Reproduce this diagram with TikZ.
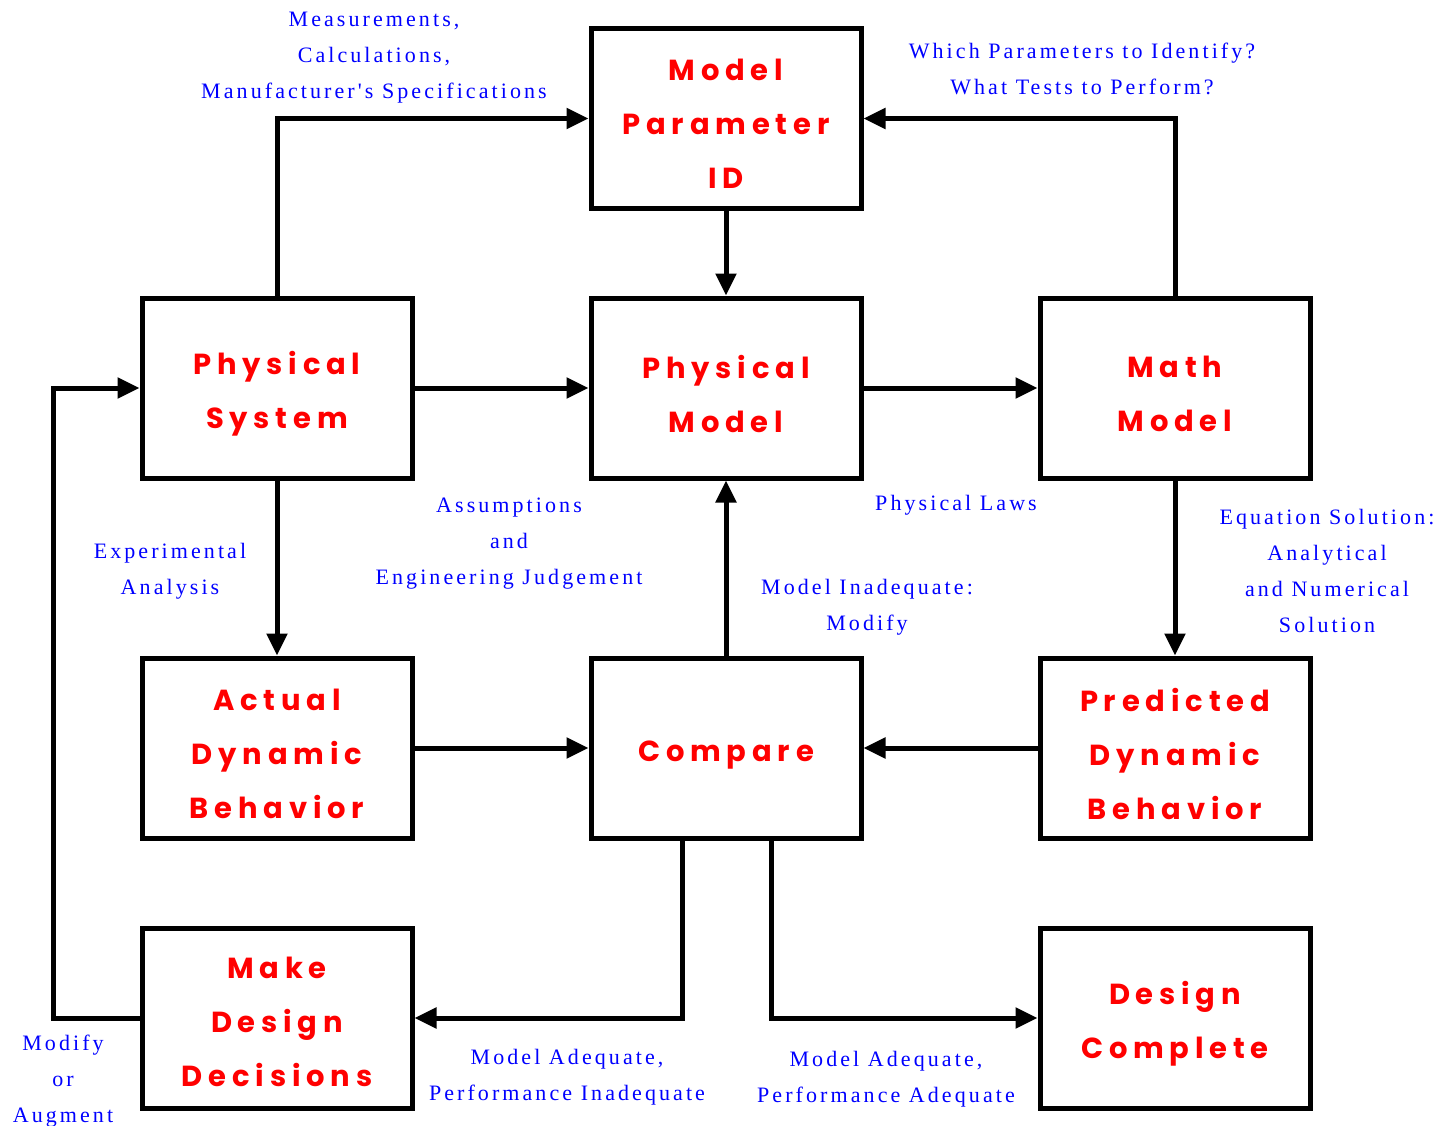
\documentclass[tikz,border=0pt]{standalone}
\usepackage{fontspec}
\usetikzlibrary{arrows.meta}
\newfontfamily\redfnt[LetterSpace=20]{Poppins}
\newfontfamily\bluefnt[LetterSpace=14]{Liberation Serif}
\begin{document}
\begin{tikzpicture}[x=1pt,y=-1pt,
  box/.style={draw,line width=5pt,minimum width=270pt,minimum height=180pt,inner sep=0pt},
  rtxt/.style={text=red,align=center,inner sep=0pt,font={\redfnt\bfseries\fontsize{29}{54}\selectfont}},
  lbl/.style={text=blue,align=center,inner sep=0pt,font={\bluefnt\fontsize{22}{36}\selectfont}},
  conn/.style={line width=5pt,-{Triangle[length=22pt,width=20pt]}}]
\useasboundingbox (0,0) rectangle (1446,1126);
\node[box] (mpid) at (726,118.5) {};
\node[box] (ps) at (277,388) {};
\node[box] (pm) at (726,388) {};
\node[box] (mm) at (1175,388) {};
\node[box] (adb) at (277,748) {};
\node[box] (cmp) at (726,748) {};
\node[box] (pdb) at (1175,748) {};
\node[box] (mdd) at (277,1018) {};
\node[box] (dc) at (1175,1018) {};
% box texts
\node[rtxt] (mpidt) at ([yshift=-5pt]mpid.center) {Model\\Parameter\\ID};
\node[rtxt] (pst) at ([yshift=-6pt]ps.center) {Physical\\System};
\node[rtxt] (pmt) at ([yshift=-6pt]pm.center) {Physical\\Model};
\node[rtxt] (mmt) at ([yshift=-6pt]mm.center) {Math\\Model};
\node[rtxt] (adbt) at ([yshift=-6pt]adb.center) {Actual\\Dynamic\\Behavior};
\node[rtxt] (cmpt) at ([yshift=-7pt]cmp.center) {Compare};
\node[rtxt] (pdbt) at ([yshift=-6pt]pdb.center) {Predicted\\Dynamic\\Behavior};
\node[rtxt] (mddt) at ([yshift=-4pt]mdd.center) {Make\\Design\\Decisions};
\node[rtxt] (dct) at ([yshift=-6pt]dc.center) {Design\\Complete};
% connectors
\draw[conn] (ps.north) |- (mpid.west);
\draw[conn] (mm.north) |- (mpid.east);
\draw[conn] (mpid.south) -- (pm.north);
\draw[conn] (ps.east) -- (pm.west);
\draw[conn] (pm.east) -- (mm.west);
\draw[conn] (ps.south) -- (adb.north);
\draw[conn] (mm.south) -- (pdb.north);
\draw[conn] (adb.east) -- (cmp.west);
\draw[conn] (pdb.west) -- (cmp.east);
\draw[conn] (cmp.north) -- (pm.south);
\coordinate (c1) at ([xshift=-44pt]cmp.south);
\coordinate (c2) at ([xshift=45pt]cmp.south);
\draw[conn] (c1) |- (mdd.east);
\draw[conn] (c2) |- (dc.west);
\coordinate (lft) at (53,1018);
\draw[conn] (mdd.west) -- (lft) |- (ps.west);
% labels
\node[lbl] (l1) at (374,58) {Measurements,\\Calculations,\\Manufacturer's Specifications};
\node[lbl] (l2) at (1082,69) {Which Parameters to Identify?\\What Tests to Perform?};
\node[lbl] (l3) at (170,571) {Experimental\\Analysis};
\node[lbl] (l4) at (509,544) {Assumptions\\and\\Engineering Judgement};
\node[lbl] (l5) at (956,505) {Physical Laws};
\node[lbl] (l6) at (1327,571) {Equation Solution:\\Analytical\\and Numerical\\Solution};
\node[lbl] (l7) at (867,607) {Model Inadequate:\\Modify};
\node[lbl] (l8) at (567,1077) {Model Adequate,\\Performance Inadequate};
\node[lbl] (l9) at (886,1079) {Model Adequate,\\Performance Adequate};
\node[lbl] (l10) at (63,1081) {Modify\\or\\Augment};
\end{tikzpicture}
\end{document}
